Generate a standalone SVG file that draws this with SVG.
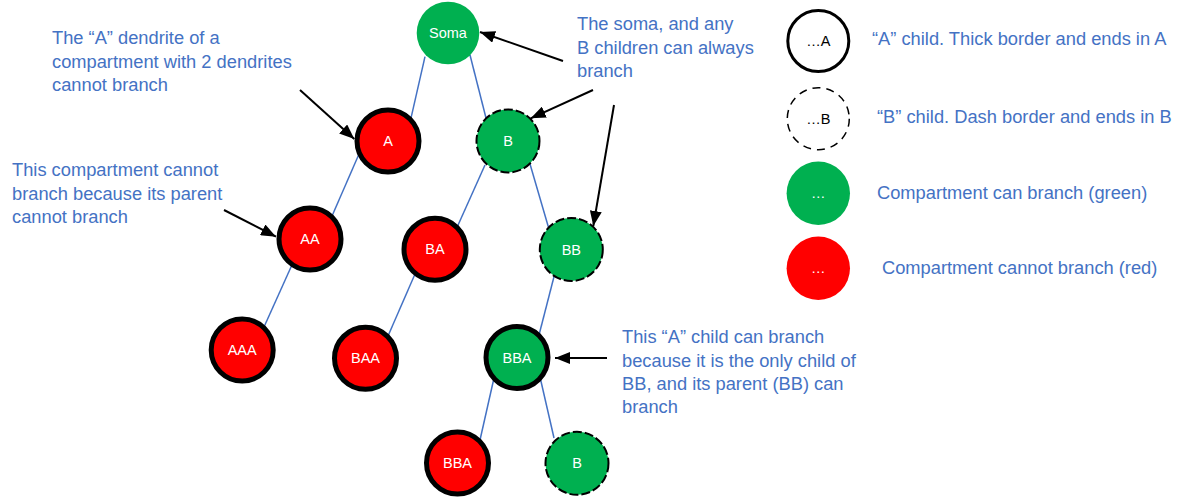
<svg xmlns="http://www.w3.org/2000/svg" width="1180" height="498" viewBox="0 0 1180 498">
<style>
.note{font-family:"Liberation Sans",Arial,sans-serif;font-size:18.3px;fill:#4472C4}
.lbl{font-family:"Liberation Sans",Arial,sans-serif;font-size:14.5px;fill:#fff;text-anchor:middle}
.lgl{font-family:"Liberation Sans",Arial,sans-serif;font-size:14.5px;fill:#000;text-anchor:middle}
.edge{stroke:#4472C4;stroke-width:1.5;fill:none}
.arr{stroke:#000;stroke-width:2;fill:none;marker-end:url(#ah)}
.green{fill:#00B050}
.red{fill:#FF0000}
.thick{stroke:#000;stroke-width:5}
.dash{stroke:#000;stroke-width:2;stroke-dasharray:9 3}
</style>
<defs>
<marker id="ah" markerUnits="userSpaceOnUse" markerWidth="16" markerHeight="12" refX="15" refY="6" orient="auto">
<path d="M0,0 L15,6 L0,12 Z" fill="#000"/>
</marker>
</defs>
<rect width="1180" height="498" fill="#fff"/>
<g id="connectors">
<line class="edge" x1="425" y1="56.7" x2="410.7" y2="119.3"/>
<line class="edge" x1="470" y1="55" x2="486" y2="118"/>
<line class="edge" x1="360" y1="151.7" x2="331.7" y2="216.7"/>
<line class="edge" x1="292.7" y1="263.3" x2="264" y2="327"/>
<line class="edge" x1="485" y1="165" x2="457.3" y2="226.7"/>
<line class="edge" x1="530" y1="164" x2="548.3" y2="226.7"/>
<line class="edge" x1="416" y1="271.7" x2="388" y2="336"/>
<line class="edge" x1="555" y1="272.7" x2="539" y2="335"/>
<line class="edge" x1="494" y1="378" x2="480" y2="440"/>
<line class="edge" x1="540" y1="377" x2="554" y2="438"/>
<line class="arr" x1="300" y1="90" x2="354.3" y2="139"/>
<line class="arr" x1="224" y1="210" x2="276" y2="236.7"/>
<line class="arr" x1="563" y1="61" x2="480" y2="32"/>
<line class="arr" x1="593" y1="90" x2="530.7" y2="118.3"/>
<line class="arr" x1="614" y1="105" x2="593.3" y2="226"/>
<line class="arr" x1="607" y1="358" x2="555" y2="358"/>
</g>
<g id="node-soma"><circle class="green" cx="448" cy="33" r="31.3"/><text class="lbl" x="448" y="38">Soma</text></g>
<g id="node-A"><circle class="red thick" cx="388" cy="141" r="31"/><text class="lbl" x="388" y="146">A</text></g>
<g id="node-B"><circle class="green dash" cx="508" cy="141" r="31.5"/><text class="lbl" x="508" y="146">B</text></g>
<g id="node-AA"><circle class="red thick" cx="310" cy="239" r="31"/><text class="lbl" x="310" y="244">AA</text></g>
<g id="node-BA"><circle class="red thick" cx="435" cy="249.3" r="31"/><text class="lbl" x="435" y="254.3">BA</text></g>
<g id="node-BB"><circle class="green dash" cx="571.3" cy="249.5" r="31.5"/><text class="lbl" x="571.3" y="254.5">BB</text></g>
<g id="node-AAA"><circle class="red thick" cx="242.2" cy="350" r="31"/><text class="lbl" x="242.2" y="355">AAA</text></g>
<g id="node-BAA"><circle class="red thick" cx="365.5" cy="358.3" r="31"/><text class="lbl" x="365.5" y="363.3">BAA</text></g>
<g id="node-BBA"><circle class="green thick" cx="517" cy="357.5" r="31"/><text class="lbl" x="517" y="362.5">BBA</text></g>
<g id="node-BBAA"><circle class="red thick" cx="457.5" cy="463" r="31"/><text class="lbl" x="457.5" y="468">BBA</text></g>
<g id="node-BBAB"><circle class="green dash" cx="577" cy="463.3" r="31.5"/><text class="lbl" x="577" y="468.3">B</text></g>
<g id="note-1">
<text class="note" x="52" y="44">The “A” dendrite of a</text>
<text class="note" x="52" y="67.5">compartment with 2 dendrites</text>
<text class="note" x="52" y="91">cannot branch</text>
</g>
<g id="note-2">
<text class="note" x="12" y="176">This compartment cannot</text>
<text class="note" x="12" y="199.5">branch because its parent</text>
<text class="note" x="12" y="223">cannot branch</text>
</g>
<g id="note-3">
<text class="note" x="577" y="30">The soma, and any</text>
<text class="note" x="577" y="53.5">B children can always</text>
<text class="note" x="577" y="77">branch</text>
</g>
<g id="note-4">
<text class="note" x="622" y="343.3">This “A” child can branch</text>
<text class="note" x="622" y="366.7">because it is the only child of</text>
<text class="note" x="622" y="390">BB, and its parent (BB) can</text>
<text class="note" x="622" y="413.3">branch</text>
</g>
<g id="legend-A"><circle cx="818.3" cy="41" r="30.5" fill="#fff" stroke="#000" stroke-width="3"/><text class="lgl" x="818.3" y="46">…A</text><text class="note" x="872" y="45">“A” child. Thick border and ends in A</text></g>
<g id="legend-B"><circle cx="818.3" cy="118.7" r="31" fill="#fff" stroke="#000" stroke-width="1.5" stroke-dasharray="8 6"/><text class="lgl" x="818.3" y="123.7">…B</text><text class="note" x="877" y="123.3">“B” child. Dash border and ends in B</text></g>
<g id="legend-green"><circle class="green" cx="818.3" cy="193.3" r="31.7"/><text class="lbl" x="818.3" y="198">…</text><text class="note" x="877" y="199.3">Compartment can branch (green)</text></g>
<g id="legend-red"><circle class="red" cx="818.3" cy="268.3" r="31.7"/><text class="lbl" x="818.3" y="273">…</text><text class="note" x="882" y="274">Compartment cannot branch (red)</text></g>
</svg>
